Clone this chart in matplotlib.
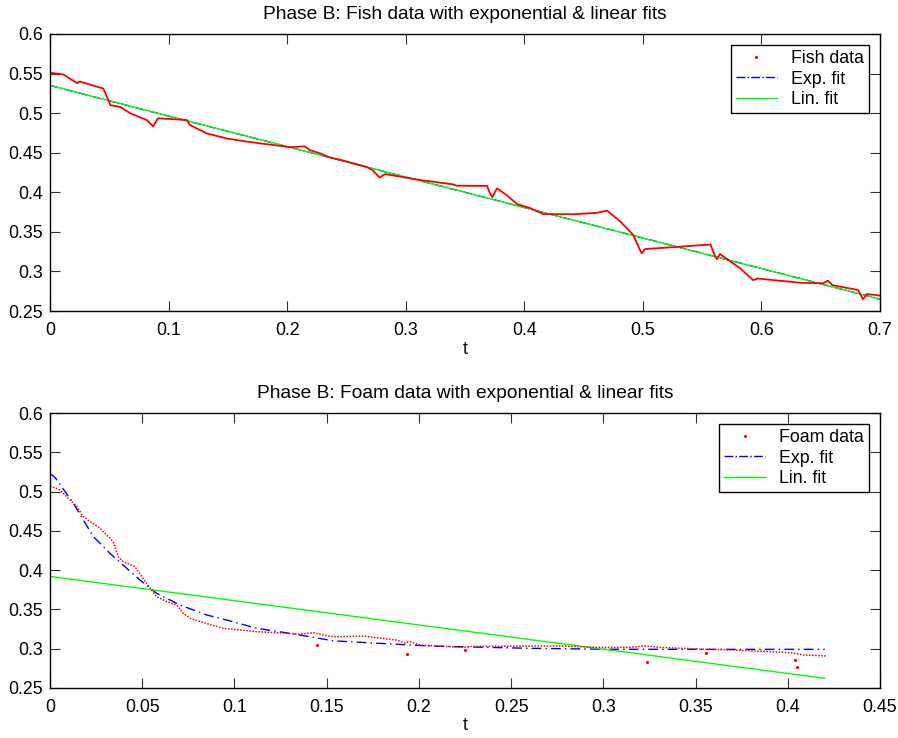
import matplotlib
matplotlib.use("Agg")
import matplotlib.pyplot as plt
from matplotlib.lines import Line2D

plt.rcParams['font.family'] = ['Liberation Sans', 'DejaVu Sans']

# ---------------- Top panel: fish data ----------------
fish_t = [0.000, 0.011, 0.0228, 0.025, 0.045, 0.051, 0.059, 0.0675, 0.082, 0.087,
          0.091, 0.1155, 0.118, 0.132, 0.149, 0.166, 0.2024, 0.215, 0.219, 0.228,
          0.236, 0.245, 0.267, 0.272, 0.278, 0.2825, 0.312, 0.340, 0.343, 0.3686,
          0.371, 0.373, 0.377, 0.385, 0.394, 0.405, 0.416, 0.441, 0.461, 0.470,
          0.481, 0.492, 0.4976, 0.499, 0.502, 0.529, 0.557, 0.561, 0.5625, 0.565,
          0.582, 0.593, 0.597, 0.6325, 0.652, 0.656, 0.660, 0.6815, 0.6857, 0.689,
          0.700]
fish_y = [0.551, 0.549, 0.538, 0.540, 0.531, 0.510, 0.508, 0.500, 0.491, 0.483,
          0.4935, 0.4913, 0.485, 0.4745, 0.468, 0.464, 0.457, 0.458, 0.4534, 0.449,
          0.444, 0.441, 0.432, 0.428, 0.4185, 0.423, 0.4155, 0.410, 0.4083, 0.408,
          0.399, 0.394, 0.405, 0.3966, 0.385, 0.380, 0.3725, 0.3722, 0.374, 0.3767,
          0.363, 0.346, 0.327, 0.323, 0.3283, 0.331, 0.334, 0.319, 0.3155, 0.322,
          0.304, 0.289, 0.291, 0.2857, 0.285, 0.2883, 0.2826, 0.2765, 0.2648, 0.2715,
          0.2695]
fish_exp_t = [0.0, 0.1, 0.2, 0.3, 0.4, 0.5, 0.6, 0.7]
fish_exp_y = [0.535, 0.4962, 0.4577, 0.4192, 0.3808, 0.3423, 0.3037, 0.265]
fish_lin_t = [0.0, 0.7]
fish_lin_y = [0.535, 0.265]

# ---------------- Bottom panel: foam data ----------------
foam_t = [0.000, 0.0054, 0.009, 0.0145, 0.018, 0.0217, 0.0271, 0.0325, 0.0343, 0.037,
          0.0398, 0.0461, 0.0479, 0.0524, 0.0578, 0.0633, 0.0687, 0.0723, 0.0759, 0.085,
          0.094, 0.112, 0.1355, 0.1428, 0.148, 0.1536, 0.1699, 0.188, 0.1925, 0.1952,
          0.2006, 0.224, 0.2277, 0.2747, 0.298, 0.3145, 0.3217, 0.3253, 0.3307, 0.356,
          0.3705, 0.4012, 0.4084, 0.4211]
foam_y = [0.507, 0.502, 0.4936, 0.481, 0.4683, 0.462, 0.4532, 0.4405, 0.436, 0.417,
          0.4107, 0.4044, 0.398, 0.3832, 0.3662, 0.360, 0.3556, 0.345, 0.3387, 0.332,
          0.326, 0.3217, 0.3187, 0.3204, 0.3174, 0.3153, 0.316, 0.311, 0.3076, 0.3089,
          0.3047, 0.3017, 0.3029, 0.3035, 0.3017, 0.3017, 0.3035, 0.303, 0.3017, 0.2992,
          0.2983, 0.295, 0.292, 0.2907]
foam_out_t = [0.1446, 0.1934, 0.225, 0.3235, 0.3555, 0.4038, 0.405]
foam_out_y = [0.3047, 0.2928, 0.298, 0.2835, 0.295, 0.2856, 0.277]
foam_exp_t = [0.0, 0.0027, 0.0127, 0.0235, 0.0325, 0.0416, 0.0488, 0.0578, 0.0705, 0.085,
              0.0958, 0.112, 0.130, 0.1536, 0.206, 0.260, 0.305, 0.360, 0.420]
foam_exp_y = [0.523, 0.518, 0.485, 0.4426, 0.4214, 0.4023, 0.3874, 0.3705, 0.3556, 0.3429,
              0.3365, 0.326, 0.3196, 0.310, 0.3034, 0.3005, 0.2993, 0.2992, 0.2992]
foam_lin_t = [0.0, 0.42]
foam_lin_y = [0.392, 0.2623]

top_xticks = [0, 0.1, 0.2, 0.3, 0.4, 0.5, 0.6, 0.7]
top_xlabels = ['0', '0.1', '0.2', '0.3', '0.4', '0.5', '0.6', '0.7']
bot_xticks = [0, 0.05, 0.1, 0.15, 0.2, 0.25, 0.3, 0.35, 0.4, 0.45]
bot_xlabels = ['0', '0.05', '0.1', '0.15', '0.2', '0.25', '0.3', '0.35', '0.4', '0.45']
yticks = [0.25, 0.3, 0.35, 0.4, 0.45, 0.5, 0.55, 0.6]
ylabels = ['0.25', '0.3', '0.35', '0.4', '0.45', '0.5', '0.55', '0.6']

RED = '#ff0000'
BLUE = '#0000ff'
GREEN = '#00ff00'
FS = 12.8

fig = plt.figure(figsize=(8.98, 7.38), dpi=100)
ax1 = fig.add_axes([50/898, 1-311/738, 830/898, 277/738])
ax2 = fig.add_axes([50/898, 1-688/738, 830/898, 275/738])


def style(ax, xt, xl, xmax, title, name):
    ax.set_xlim(0, xmax)
    ax.set_ylim(0.25, 0.6)
    ax.set_xticks(xt)
    ax.set_xticklabels(xl)
    ax.set_yticks(yticks)
    ax.set_yticklabels(ylabels)
    ax.tick_params(direction='in', length=7, width=0.8, top=True, right=True,
                   labelsize=FS, color='#333333')
    ax.tick_params(axis='x', pad=8)
    ax.tick_params(axis='y', pad=5)
    for s in ax.spines.values():
        s.set_linewidth(1.0)
        s.set_color('black')
    ax.set_title(title, fontsize=13.8, pad=11)
    ax.set_xlabel('t', fontsize=FS, labelpad=1)
    handles = [Line2D([], [], color=RED, marker='.', markersize=2.5, linestyle='none'),
               Line2D([], [], color=BLUE, linestyle='-.', linewidth=1.0),
               Line2D([], [], color=GREEN, linestyle='-', linewidth=1.0)]
    leg = ax.legend(handles, [name, 'Exp. fit', 'Lin. fit'], loc='upper right',
                    fontsize=FS, fancybox=False, framealpha=1, edgecolor='black',
                    borderpad=0.3, labelspacing=0.2, handlelength=2.3,
                    handletextpad=0.8, borderaxespad=0.6)
    leg.get_frame().set_linewidth(1.0)


ax1.plot(fish_exp_t, fish_exp_y, color=BLUE, linestyle='-.', linewidth=1.0)
ax1.plot(fish_lin_t, fish_lin_y, color=GREEN, linestyle='-', linewidth=1.0)
ax1.plot(fish_t, fish_y, color=RED, linewidth=1.3)
style(ax1, top_xticks, top_xlabels, 0.7,
      'Phase B: Fish data with exponential & linear fits', 'Fish data')

ax2.plot(foam_exp_t, foam_exp_y, color=BLUE, linestyle=(0, (7, 3, 1, 3)), linewidth=1.0)
ax2.plot(foam_lin_t, foam_lin_y, color=GREEN, linestyle='-', linewidth=1.0)
ax2.plot(foam_t, foam_y, color=RED, linewidth=1.1, linestyle=(0, (1, 1)))
ax2.plot(foam_out_t, foam_out_y, color=RED, marker='.', markersize=2.5, linestyle='none')
style(ax2, bot_xticks, bot_xlabels, 0.45,
      'Phase B: Foam data with exponential & linear fits', 'Foam data')

fig.savefig('out.png', dpi=100)
